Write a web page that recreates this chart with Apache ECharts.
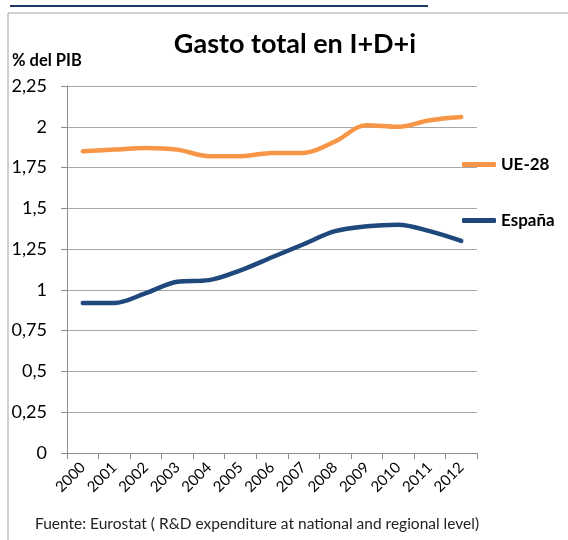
<!DOCTYPE html>
<html>
<head>
<meta charset="utf-8">
<script src="https://cdn.jsdelivr.net/npm/echarts@6/dist/echarts.min.js"></script>
<style>
html,body{margin:0;padding:0;background:#fff;}
#chart{width:568px;height:540px;}
</style>
</head>
<body>
<div id="chart"></div>
<script>
var years = ['2000','2001','2002','2003','2004','2005','2006','2007','2008','2009','2010','2011','2012'];
var ue28 = [1.85, 1.86, 1.87, 1.86, 1.82, 1.82, 1.84, 1.84, 1.91, 2.01, 2.00, 2.04, 2.06];
var espana = [0.92, 0.92, 0.98, 1.05, 1.06, 1.12, 1.20, 1.28, 1.36, 1.39, 1.40, 1.36, 1.30];
var seriesNames = ['UE-28', 'España'];
var titleText = 'Gasto total en I+D+i';
var axisTitle = '% del PIB';
var sourceText = 'Fuente: Eurostat ( R&D expenditure at national and regional level)';

var FONT = 'Lato, "Open Sans", sans-serif';
var chart = echarts.init(document.getElementById('chart'), null, {renderer: 'canvas'});
var option = {
  animation: false,
  backgroundColor: '#ffffff',
  textStyle: {fontFamily: FONT},
  title: {
    text: titleText,
    left: 290, top: 26, textAlign: 'center',
    textStyle: {fontFamily: FONT, fontSize: 27, fontWeight: 'bold', color: '#000'}
  },
  legend: [
    {
      data: [seriesNames[0]], orient: 'vertical', left: 457, top: 151,
      icon: 'roundRect', itemWidth: 34, itemHeight: 5, itemGap: 6,
      textStyle: {fontFamily: FONT, fontSize: 17, fontWeight: 'bold', color: '#000'}
    },
    {
      data: [seriesNames[1]], orient: 'vertical', left: 457, top: 207,
      icon: 'roundRect', itemWidth: 34, itemHeight: 5, itemGap: 6,
      textStyle: {fontFamily: FONT, fontSize: 17, fontWeight: 'bold', color: '#000'}
    }
  ],
  grid: {left: 67, right: 91, top: 86, bottom: 87, containLabel: false},
  xAxis: {
    type: 'category',
    data: years,
    boundaryGap: true,
    axisLine: {lineStyle: {color: '#8c8c8c', width: 1}},
    axisTick: {show: true, length: 6, inside: false, lineStyle: {color: '#8c8c8c'}},
    axisLabel: {rotate: 45, fontFamily: FONT, fontSize: 15, color: '#000', margin: 12, interval: 0},
    splitLine: {show: false}
  },
  yAxis: {
    type: 'value',
    min: 0, max: 2.25, interval: 0.25,
    axisLine: {show: true, lineStyle: {color: '#8c8c8c', width: 1}},
    axisTick: {show: true, length: 6, lineStyle: {color: '#8c8c8c'}},
    axisLabel: {
      fontFamily: FONT, fontSize: 18, color: '#000', margin: 20,
      formatter: function (v) { return String(Math.round(v * 100) / 100).replace('.', ','); }
    },
    splitLine: {show: true, lineStyle: {color: '#a6a6a6', width: 1}}
  },
  series: [
    {
      name: seriesNames[0], type: 'line', data: ue28, smooth: 0.35,
      symbol: 'none', color: '#F79646',
      lineStyle: {width: 4.5, color: '#F79646', cap: 'round'}
    },
    {
      name: seriesNames[1], type: 'line', data: espana, smooth: 0.35,
      symbol: 'none', color: '#1F497D',
      lineStyle: {width: 4.5, color: '#1F497D', cap: 'round'}
    }
  ],
  graphic: [
    {type: 'line', shape: {x1: 10, y1: 6, x2: 428, y2: 6}, style: {stroke: '#1F3864', lineWidth: 2}},
    {type: 'line', shape: {x1: 8, y1: 13, x2: 568, y2: 13}, style: {stroke: '#c0c0c0', lineWidth: 1.5}},
    {type: 'line', shape: {x1: 8, y1: 13, x2: 8, y2: 540}, style: {stroke: '#c0c0c0', lineWidth: 1.5}},
    {type: 'text', left: 12, top: 52, style: {text: axisTitle, fontFamily: FONT, fontSize: 16.5, fontWeight: 'bold', fill: '#000'}},
    {type: 'text', left: 35, top: 516, style: {text: sourceText, fontFamily: FONT, fontSize: 15.5, fill: '#222'}}
  ]
};
chart.setOption(option);
</script>
</body>
</html>
